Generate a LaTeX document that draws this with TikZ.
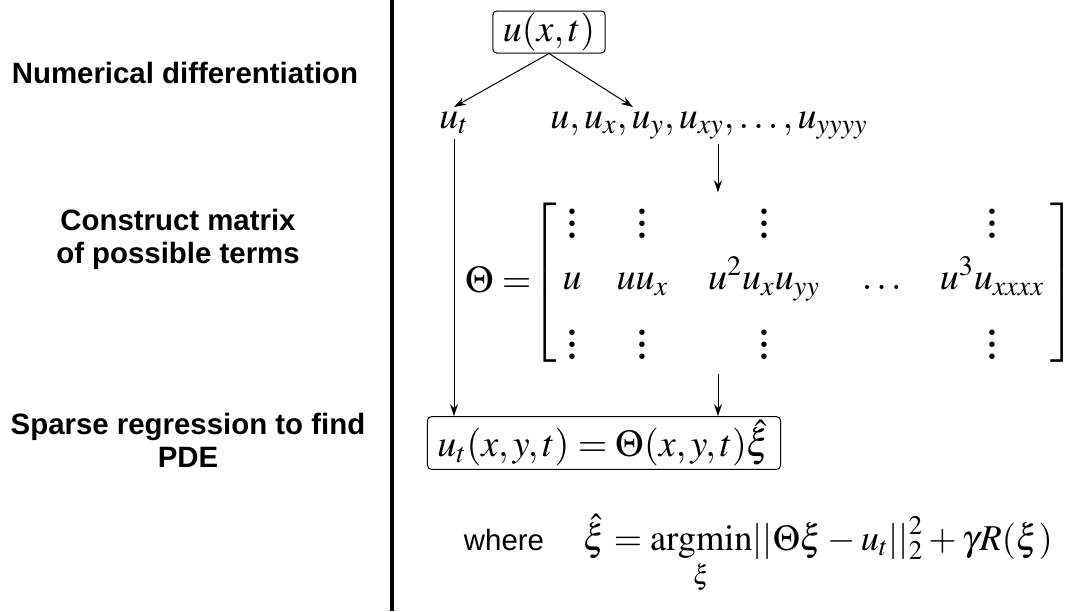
\documentclass[tikz,border=0pt]{standalone}
\usepackage{amsmath}
\usepackage{mathptmx}
\usepackage{fontspec}
\newfontfamily\labelfont{Liberation Sans}
\usetikzlibrary{arrows.meta,positioning}
\newcommand\colvdots{\vbox{\baselineskip6pt\lineskiplimit0pt\kern5pt\hbox{\bfseries.}\hbox{\bfseries.}\hbox{\bfseries.}}}
\begin{document}
\begin{tikzpicture}[x=0.5pt,y=-0.5pt,line width=0.5pt,
  >={Stealth[length=6pt,width=4pt]},
  stage/.style={font=\labelfont\bfseries\fontsize{14.7}{16.5}\selectfont,align=center},
  eqn/.style={font=\fontsize{19}{23}\selectfont},
  eqbox/.style={eqn,draw,rounded corners=2pt,inner xsep=5pt,inner ysep=1pt}]
  \useasboundingbox (0,0) rectangle (1081,611);
  \draw[line width=2pt] (392,0) -- (392,611);
  \node[stage,anchor=base] (numdiff) at (185,83) {Numerical differentiation};
  \node[stage] (construct) at (178,239) {Construct matrix\\of possible terms};
  \node[stage] (sparse) at (188,440) {Sparse regression to find\\PDE};
  \node[eqbox] (field) at (549,32) {$u(x,t)$};
  \node[eqn,anchor=base,inner sep=2pt] (ut) at (454,128) {$u_t$};
  \node[eqn,anchor=base,inner sep=2pt] (derivs) at (709,128) {$u, u_x, u_y, u_{xy}, \ldots, u_{yyyy}$};
  \node[eqn,anchor=west] (theta) at (458,283) {$\Theta =\!\! \renewcommand{\arraystretch}{0.5}\left[\begin{array}{@{\hspace{3pt}}c@{\hspace{17.5pt}}c@{\hspace{20pt}}c@{\hspace{21pt}}c@{\hspace{19pt}}c@{\hspace{3pt}}}
    \colvdots & \colvdots & \colvdots & & \colvdots \\[5.5pt]
    u & uu_x & u^2u_xu_{yy} & \ldots & u^3u_{xxxx} \\[11.9pt]
    \colvdots & \colvdots & \colvdots & & \colvdots
  \end{array}\right]$};
  \node[eqbox,inner ysep=1.5pt] (model) at (604,443) {$u_t(x,y,t) = \Theta(x,y,t)\hat{\xi}$};
  \node[font=\labelfont\fontsize{14.7}{17}\selectfont,anchor=base] (where) at (504,550) {where};
  \node[eqn,font=\fontsize{18.2}{22}\selectfont,anchor=base west] (lsq) at (576,550) {$\displaystyle\hat{\xi} = \operatorname*{argmin}_{\xi}\!||\Theta\xi - u_t||_2^2 + \gamma R(\xi)$};
  \coordinate (split) at (633,0);
  \coordinate (feed) at (718,0);
  \draw[->] (field.south) -- (ut.north);
  \draw[->] (field.south) -- (derivs.north -| split);
  \draw[->] (derivs.south -| feed) -- (theta.north -| feed);
  \draw[->] (ut.south) -- (model.north -| ut.south);
  \draw[->] (theta.south -| feed) -- (model.north -| feed);
\end{tikzpicture}
\end{document}
